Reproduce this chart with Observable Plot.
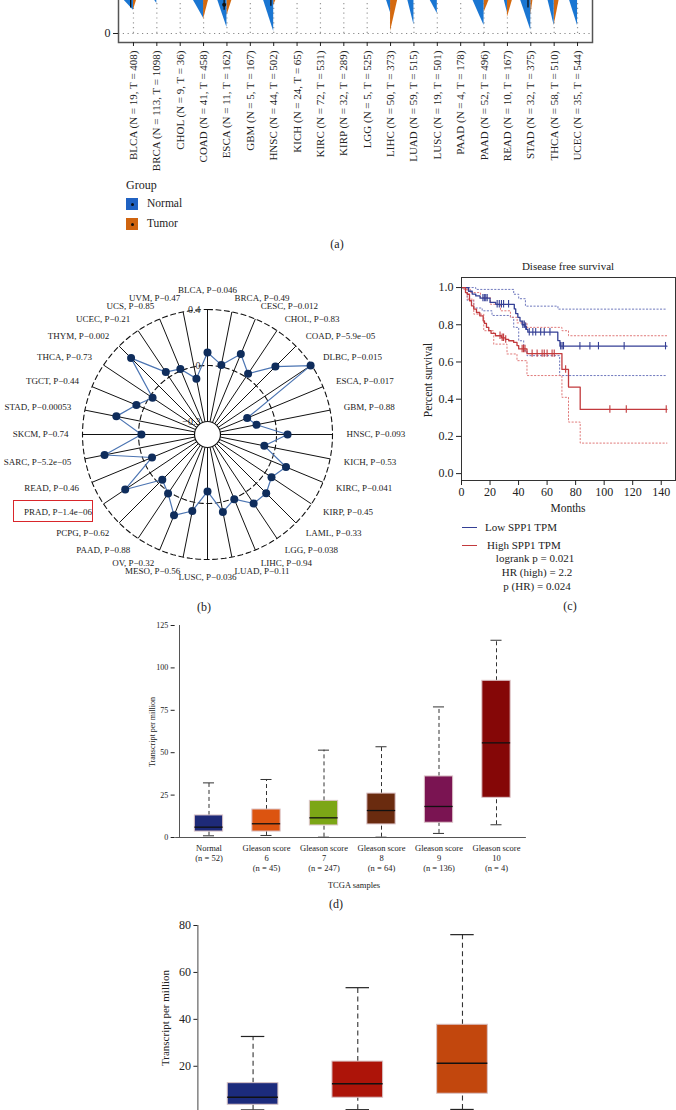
<!DOCTYPE html>
<html><head><meta charset="utf-8">
<script src="https://cdn.jsdelivr.net/npm/d3@7"></script>
<script src="https://cdn.jsdelivr.net/npm/@observablehq/plot@0.6"></script>
<style>
html,body{margin:0;padding:0;background:#fff;}
#page{position:relative;width:676px;height:1110px;overflow:hidden;font-family:"Liberation Serif",serif;color:#222;}
.abs{position:absolute;}
.t{position:absolute;white-space:nowrap;line-height:1;}
</style></head><body><div id="page"></div>
<script>
// ---------- Panel (a): split violins (cropped) ----------
const aCats = ["BLCA","BRCA","CHOL","COAD","ESCA","GBM","HNSC","KICH","KIRC","KIRP","LGG","LIHC","LUAD","LUSC","PAAD","PAAD","READ","STAD","THCA","UCEC"];
const aNormalN = [19,113,9,41,11,5,44,24,72,32,5,50,59,19,4,52,10,32,58,35];
const aTumorN = [408,1098,36,458,162,167,502,65,531,289,525,373,515,501,178,496,167,375,510,544];
const aNormalTip = [2.9,3.75,null,1.9,0.75,null,0.25,null,null,null,null,2.6,1.1,2.5,null,1.0,2.6,0.4,1.0,1.0];
const aNormalWidth = [0.39,0.09,null,0.43,0.39,null,0.43,null,null,null,null,0.17,0.26,0.3,null,0.47,0.13,0.43,0.26,0.34];
const aTumorTip = [2.9,null,null,1.75,2.25,null,3.5,null,null,null,null,0.25,null,null,null,2.6,2.0,2.25,1.0,null];
const aTumorWidth = [0.13,null,null,0.21,0.21,null,0.09,null,null,null,null,0.3,null,null,null,0.21,0.21,0.09,0.21,null];
const aBarCat = [0,4,6,17];
const aBarLow = [3.2,2.9,3.4,3.2];
const aDotCat = [4];
const aDotVal = [3.6];

// ---------- Panel (b): radar ----------
const radarCats = ["BLCA","BRCA","CESC","CHOL","COAD","DLBC","ESCA","GBM","HNSC","KICH","KIRC","KIRP","LAML","LGG","LIHC","LUAD","LUSC","MESO","OV","PAAD","PCPG","PRAD","READ","SARC","SKCM","STAD","TGCT","THCA","THYM","UCEC","UCS","UVM"];
const radarP = ["0.046","0.49","0.012","0.83","5.9e\u221205","0.015","0.017","0.88","0.093","0.53","0.041","0.45","0.33","0.038","0.94","0.11","0.036","0.56","0.32","0.88","0.62","1.4e\u221206","0.46","5.2e\u221205","0.74","0.00053","0.44","0.73","0.002","0.21","0.85","0.47"];
const radarCor = [0.093,0.014,0.129,0.029,0.193,0.393,-0.186,-0.136,0.079,-0.079,0.114,0.057,0.1,0.1,0.007,0.071,-0.086,0.064,0.132,0.014,-0.036,0.214,-0.064,0.257,-0.021,0.171,0.057,-0.021,0.279,0.043,0.014,-0.086];
const radarGrid = [-0.4, 0, 0.4];
const radarGridLabels = ["\u22120.3", "0", "0.4"];

// ---------- Panel (c): Kaplan-Meier ----------
const kmLowT = [0,5,7.5,10,13,20,24,37,38,39.5,41,42.5,44.5,45.5,46.5,67.5,69,144];
const kmLowS = [1.0,0.98,0.965,0.955,0.943,0.92,0.91,0.885,0.86,0.84,0.82,0.80,0.79,0.775,0.76,0.715,0.685,0.685];
const kmLowCensor = [15,16,17,18,25,26.5,28,29.5,33,43,44,45,47.5,50,52,55.5,58,62,69.5,70.5,71.5,83,90,96,114,143];
const kmHighT = [0,2.8,4,5.6,7,8.6,10.5,12.8,15.2,16.1,17.5,19.1,20.7,23.8,28,30.8,33.1,36.6,38.9,40.1,45.9,70.4,75,83.2,144];
const kmHighS = [1.0,0.973,0.964,0.929,0.902,0.884,0.866,0.848,0.821,0.807,0.786,0.768,0.754,0.741,0.73,0.721,0.714,0.705,0.688,0.67,0.645,0.56,0.465,0.345,0.345];
const kmHighCensor = [27,28.5,29.5,31,42.5,43.5,44.5,49.5,53,56.5,58,60,63.5,65,73,104,115.5,143.5];
const kmLowUpT = [0,10,36.6,40.1,44.8,67.6,144];
const kmLowUpS = [1.0,0.99,0.964,0.94,0.9,0.884,0.884];
const kmLowLoT = [0,4,8.6,14.5,21.4,34.3,36.6,40.1,43.6,45.9,68.8,144];
const kmLowLoS = [1.0,0.93,0.89,0.875,0.85,0.84,0.786,0.714,0.66,0.634,0.527,0.527];
const kmHighUpT = [0,1.6,6.3,13.3,20.3,27.3,34.3,39,45.9,70.4,75,144];
const kmHighUpS = [1.0,0.99,0.973,0.946,0.91,0.875,0.84,0.81,0.786,0.768,0.741,0.741];
const kmHighLoT = [0,4,8.6,15.6,22.6,31.9,38.9,45.9,70.4,75,83.2,144];
const kmHighLoS = [1.0,0.9375,0.857,0.768,0.696,0.643,0.607,0.527,0.41,0.277,0.164,0.164];

// ---------- Panel (d): Gleason boxplots ----------
const dLine1 = ["Normal","Gleason score","Gleason score","Gleason score","Gleason score","Gleason score"];
const dLine2 = ["(n = 52)","6","7","8","9","10"];
const dLine3 = ["","(n = 45)","(n = 247)","(n = 64)","(n = 136)","(n = 4)"];
const dMin = [1.0,1.2,0.2,0.2,2.4,7.5];
const dQ1 = [3.5,3.5,7.1,7.7,8.7,23.4];
const dMed = [6.1,8.1,11.6,15.9,18.3,55.8];
const dQ3 = [13,16.5,21.6,25.9,36,92.4];
const dMax = [32.2,34.2,51.5,53.5,77,116.3];
const dColors = ["#1e2a78","#dc5410","#7ca616","#6a2b0f","#7a1452","#850707"];

// ---------- Panel (e): boxplots (cropped; category labels fall below the figure) ----------
const eCats = ["Normal","N0","N1"];
const eMin = [1.4,1.5,1.6];
const eQ1 = [3.6,6.6,8.3];
const eMed = [6.8,12.5,21.3];
const eQ3 = [12.8,22,37.7];
const eMax = [32.7,53.5,76.1];
const eColors = ["#1c2b7c","#ad1409","#c2470d"];

// ---------- helpers ----------
const page = document.getElementById("page");
function put(node, left, top) {
  const d = document.createElement("div");
  d.className = "abs"; d.style.left = left + "px"; d.style.top = top + "px";
  d.appendChild(node); page.appendChild(d); return d;
}
function txt(s, x, y, size, anchor = "middle", rotate = 0, extra = {}) {
  const d = document.createElement("div");
  d.className = "t"; d.textContent = s; d.style.fontSize = size + "px";
  d.style.left = x + "px"; d.style.top = y + "px";
  const tx = anchor === "start" ? "0" : anchor === "end" ? "-100%" : "-50%";
  d.style.transform = `translate(${tx},-50%)` + (rotate ? ` rotate(${rotate}deg)` : "");
  Object.assign(d.style, extra);
  page.appendChild(d); return d;
}
function box(x, y, w, h, style) {
  const d = document.createElement("div");
  d.className = "abs"; d.style.left = x + "px"; d.style.top = y + "px";
  d.style.width = w + "px"; d.style.height = h + "px";
  Object.assign(d.style, style); page.appendChild(d); return d;
}
const baseStyle = {fontFamily: "Liberation Serif", fontSize: "11px", background: "transparent", overflow: "visible", color: "#222"};

// ---------- (a) ----------
{
  const idx = d3.range(aCats.length);
  const aTop = 4.125; // value level at the cropped top edge of the figure
  const rows = [];
  idx.forEach(i => {
    if (aNormalTip[i] != null) rows.push({id: "n" + i, g: "N", y: aNormalTip[i], x1: i, x2: i}, {id: "n" + i, g: "N", y: aTop, x1: i, x2: i - aNormalWidth[i]});
    if (aTumorTip[i] != null) rows.push({id: "t" + i, g: "T", y: aTumorTip[i], x1: i, x2: i}, {id: "t" + i, g: "T", y: aTop, x1: i, x2: i + aTumorWidth[i]});
  });
  const bars = aBarCat.map((c, k) => ({x: c - 0.12, y1: aBarLow[k], y2: 5}));
  const dots = aDotCat.map((c, k) => ({x: c - 0.12, y: aDotVal[k]}));
  const p = Plot.plot({
    width: 676, height: 200, marginLeft: 118, marginRight: 84, marginTop: 0, marginBottom: 148,
    style: {...baseStyle, fontSize: "11px"},
    x: {domain: [-0.64, 19.64], axis: null},
    y: {domain: [-1.125, 5.375], axis: null},
    marks: [
      Plot.ruleY([0], {stroke: "#888", strokeDasharray: "1.2,3.6", strokeWidth: 1.2}),
      Plot.ruleX(idx, {x: d => d, y1: 0, y2: 5.375, stroke: "#999", strokeDasharray: "1.2,3.6", strokeWidth: 1.2}),
      Plot.areaX(rows.filter(r => r.g === "T"), {y: "y", x1: "x1", x2: "x2", z: "id", fill: "#d4690f"}),
      Plot.areaX(rows.filter(r => r.g === "N"), {y: "y", x1: "x1", x2: "x2", z: "id", fill: "#1a76d2"}),
      Plot.ruleX(bars, {x: "x", y1: "y1", y2: "y2", stroke: "#111", strokeWidth: 1.3}),
      Plot.dot(dots, {x: "x", y: "y", r: 2, fill: "#111"}),
      Plot.frame({stroke: "#555", strokeWidth: 1.5}),
      Plot.axisY({ticks: [0], tickFormat: d3.format("d"), tickSize: 5, tickPadding: 3, fontSize: 12, label: null}),
      Plot.axisX({ticks: idx, tickFormat: i => `${aCats[i]} (N = ${aNormalN[i]}, T = ${aTumorN[i]})`, tickRotate: -90, tickSize: 4, tickPadding: 4, fontSize: 11, label: null})
    ]
  });
  put(p, 0, -10);
  txt("Group", 126, 185, 12, "start");
  box(126, 198, 12, 12, {background: "#2062c2"});
  box(130.5, 202.5, 3, 3, {background: "#111", borderRadius: "50%"});
  txt("Normal", 147, 204, 11.5, "start");
  box(126, 218, 12, 12, {background: "#cf640f"});
  box(130.5, 222.5, 3, 3, {background: "#111", borderRadius: "50%"});
  txt("Tumor", 147, 224, 11.5, "start");
  txt("(a)", 337, 244, 12);
}

// ---------- (b) ----------
{
  const n = radarCats.length;
  const rScale = d3.scaleLinear([-0.4, 0.4], [13, 125]);
  const ang = i => i * 2 * Math.PI / n;
  const pts = radarCats.map((c, i) => ({x: rScale(radarCor[i]) * Math.sin(ang(i)), y: rScale(radarCor[i]) * Math.cos(ang(i))}));
  const circ = r => d3.range(0, 361, 2).map(a => ({x: r * Math.sin(a * Math.PI / 180), y: r * Math.cos(a * Math.PI / 180)}));
  const r0 = rScale(radarGrid[0]), r1 = rScale(radarGrid[2]);
  const spokes = radarCats.map((c, i) => ({x1: r0 * Math.sin(ang(i)), y1: r0 * Math.cos(ang(i)), x2: r1 * Math.sin(ang(i)), y2: r1 * Math.cos(ang(i))}));
  const labR = 139;
  const labs = radarCats.map((c, i) => ({t: `${c}, P\u2212${radarP[i]}`, s: Math.sin(ang(i)), x: labR * Math.sin(ang(i)), y: labR * Math.cos(ang(i))}));
  const gridLabs = radarGrid.map((v, k) => ({t: radarGridLabels[k], y: rScale(v)}));
  const p = Plot.plot({
    width: 460, height: 360, margin: 0,
    style: {...baseStyle, fontSize: "9px"},
    x: {domain: [-207, 253], axis: null},
    y: {domain: [-186, 174], axis: null},
    marks: [
      Plot.text(gridLabs, {x: () => -7, y: "y", text: "t", textAnchor: "end", fontSize: 10, fill: "#333"}),
      Plot.line(circ(rScale(radarGrid[2])), {x: "x", y: "y", stroke: "#111", strokeWidth: 1.1, strokeDasharray: "5,3.5"}),
      Plot.line(circ(rScale(radarGrid[1])), {x: "x", y: "y", stroke: "#111", strokeWidth: 1.1, strokeDasharray: "5,3.5"}),
      Plot.link(spokes, {x1: "x1", y1: "y1", x2: "x2", y2: "y2", stroke: "#111", strokeWidth: 1}),
      Plot.dot([{x: 0, y: 0}], {x: "x", y: "y", r: r0, fill: "white", stroke: "#111", strokeWidth: 1.2}),
      Plot.line(pts, {x: "x", y: "y", curve: "linear-closed", stroke: "#4b74b2", strokeWidth: 1.2}),
      Plot.dot(pts, {x: "x", y: "y", r: 4, fill: "#0f2d5c"}),
      Plot.text(labs.filter(d => d.s > 0.01), {x: "x", y: "y", text: "t", textAnchor: "start", fill: "#222"}),
      Plot.text(labs.filter(d => d.s < -0.01), {x: "x", y: "y", text: "t", textAnchor: "end", fill: "#222"}),
      Plot.text(labs.filter(d => Math.abs(d.s) <= 0.01 && d.y > 0), {x: "x", y: "y", text: "t", textAnchor: "middle", dy: -5, fill: "#222"}),
      Plot.text(labs.filter(d => Math.abs(d.s) <= 0.01 && d.y < 0), {x: "x", y: "y", text: "t", textAnchor: "middle", lineAnchor: "top", fill: "#222"})
    ]
  });
  put(p, 0, 260);
  box(13, 500, 78, 20, {border: "1px solid #d9262b"});
  txt("(b)", 204, 607, 12);
}

// ---------- (c) ----------
{
  const rowsOf = (T, S) => T.map((t, i) => ({t, s: S[i]}));
  const stepAt = (T, S, c) => { let v = S[0]; for (let i = 0; i < T.length; i++) if (T[i] <= c) v = S[i]; return v; };
  const cens = (C, T, S) => C.map(c => ({t: c, s: stepAt(T, S, c)}));
  const blue = "#343f95", red = "#c23a3d";
  const p = Plot.plot({
    width: 276, height: 250, marginLeft: 61, marginRight: 1, marginTop: 22, marginBottom: 25,
    style: {...baseStyle, fontSize: "11.5px"},
    x: {domain: [0, 150], axis: null},
    y: {domain: [-0.037, 1.054], axis: null},
    marks: [
      Plot.line(rowsOf(kmLowUpT, kmLowUpS), {x: "t", y: "s", curve: "step-after", stroke: "#6f78bd", strokeWidth: 1, strokeDasharray: "1.3,2.2"}),
      Plot.line(rowsOf(kmLowLoT, kmLowLoS), {x: "t", y: "s", curve: "step-after", stroke: "#6f78bd", strokeWidth: 1, strokeDasharray: "1.3,2.2"}),
      Plot.line(rowsOf(kmHighUpT, kmHighUpS), {x: "t", y: "s", curve: "step-after", stroke: "#e07a7a", strokeWidth: 1, strokeDasharray: "1.3,2.2"}),
      Plot.line(rowsOf(kmHighLoT, kmHighLoS), {x: "t", y: "s", curve: "step-after", stroke: "#e07a7a", strokeWidth: 1, strokeDasharray: "1.3,2.2"}),
      Plot.line(rowsOf(kmLowT, kmLowS), {x: "t", y: "s", curve: "step-after", stroke: blue, strokeWidth: 1.3}),
      Plot.line(rowsOf(kmHighT, kmHighS), {x: "t", y: "s", curve: "step-after", stroke: red, strokeWidth: 1.3}),
      Plot.ruleX(cens(kmLowCensor, kmLowT, kmLowS), {x: "t", y1: d => d.s - 0.02, y2: d => d.s + 0.02, stroke: blue, strokeWidth: 1.1}),
      Plot.ruleX(cens(kmHighCensor, kmHighT, kmHighS), {x: "t", y1: d => d.s - 0.02, y2: d => d.s + 0.02, stroke: red, strokeWidth: 1.1}),
      Plot.frame({stroke: "#333", strokeWidth: 1}),
      Plot.axisY({ticks: [0, 0.2, 0.4, 0.6, 0.8, 1.0], tickFormat: d3.format(".1f"), tickSize: 5, tickPadding: 3, fontSize: 12, label: null}),
      Plot.axisX({ticks: d3.range(0, 141, 20), tickSize: 5, tickPadding: 2, fontSize: 12, label: null})
    ]
  });
  put(p, 400, 255);
  txt("Disease free survival", 568, 266, 11);
  txt("Months", 568, 509, 11.5);
  txt("Percent survival", 429, 380, 11.5, "middle", -90);
  box(462, 527, 15, 1.3, {background: blue});
  txt("Low SPP1 TPM", 485, 527, 11, "start");
  box(462, 545, 15, 1.3, {background: red});
  txt("High SPP1 TPM", 487, 545, 11, "start");
  txt("logrank p = 0.021", 535, 558, 11);
  txt("HR (high) = 2.2", 537, 572, 11);
  txt("p (HR) = 0.024", 537, 586, 11);
  txt("(c)", 570, 606, 12);
}

// ---------- (d) ----------
{
  const idx = d3.range(dLine1.length);
  const hw = 0.246, cw = 0.096;
  const p = Plot.plot({
    width: 440, height: 282, marginLeft: 75.15, marginRight: 14.1, marginTop: 10, marginBottom: 60,
    style: {...baseStyle, fontSize: "8.5px"},
    x: {domain: [-0.58, 5.52], axis: null},
    y: {domain: [0, 125], axis: null},
    marks: [
      Plot.ruleX(idx, {x: d => d, y1: i => dQ3[i], y2: i => dMax[i], stroke: "#333", strokeDasharray: "4,3", strokeWidth: 1}),
      Plot.ruleX(idx, {x: d => d, y1: i => dMin[i], y2: i => dQ1[i], stroke: "#333", strokeDasharray: "4,3", strokeWidth: 1}),
      Plot.ruleY(idx, {x1: i => i - cw, x2: i => i + cw, y: i => dMax[i], stroke: "#333", strokeWidth: 1}),
      Plot.ruleY(idx, {x1: i => i - cw, x2: i => i + cw, y: i => dMin[i], stroke: "#333", strokeWidth: 1}),
      Plot.rect(idx, {x1: i => i - hw, x2: i => i + hw, y1: i => dQ1[i], y2: i => dQ3[i], fill: i => dColors[i], stroke: "#dcc4c8", strokeWidth: 1}),
      Plot.ruleY(idx, {x1: i => i - hw, x2: i => i + hw, y: i => dMed[i], stroke: "#111", strokeWidth: 1.3}),
      Plot.ruleY([0], {stroke: "#555", strokeWidth: 1}),
      Plot.ruleX([-0.513], {y1: 0, y2: 125, stroke: "#555", strokeWidth: 1}),
      Plot.axisY({ticks: [0, 25, 50, 75, 100, 125], tickSize: 4, tickPadding: 3, fontSize: 8, dx: -0.5, label: null}),
      Plot.axisX({ticks: idx, tickFormat: i => [dLine1[i], dLine2[i], dLine3[i]].filter(s => s).join("\n"), tickSize: 0, tickPadding: 6, fontSize: 8.5, lineHeight: 1.18, label: null})
    ]
  });
  put(p, 100, 615);
  txt("Transcript per million", 153, 732, 8, "middle", -90);
  txt("TCGA samples", 354, 885, 8.5);
  txt("(d)", 336, 904, 12);
}

// ---------- (e) ----------
{
  const idx = d3.range(eCats.length);
  const hw = 0.242, cw = 0.112;
  const p = Plot.plot({
    width: 480, height: 220, marginLeft: 97.4, marginRight: 55.2, marginTop: 10, marginBottom: 22.3,
    style: {...baseStyle, fontSize: "12px"},
    x: {domain: [-0.527, 2.6], axis: null},
    y: {domain: [0, 80], axis: null},
    marks: [
      Plot.ruleX(idx, {x: d => d, y1: i => eQ3[i], y2: i => eMax[i], stroke: "#333", strokeDasharray: "5,3.5", strokeWidth: 1.1}),
      Plot.ruleX(idx, {x: d => d, y1: i => eMin[i], y2: i => eQ1[i], stroke: "#333", strokeDasharray: "5,3.5", strokeWidth: 1.1}),
      Plot.ruleY(idx, {x1: i => i - cw, x2: i => i + cw, y: i => eMax[i], stroke: "#222", strokeWidth: 1.2}),
      Plot.ruleY(idx, {x1: i => i - cw, x2: i => i + cw, y: i => eMin[i], stroke: "#222", strokeWidth: 1.2}),
      Plot.rect(idx, {x1: i => i - hw, x2: i => i + hw, y1: i => eQ1[i], y2: i => eQ3[i], fill: i => eColors[i], stroke: "#d8c2c4", strokeWidth: 1}),
      Plot.ruleY(idx, {x1: i => i - hw, x2: i => i + hw, y: i => eMed[i], stroke: "#111", strokeWidth: 1.5}),
      Plot.ruleX([-0.527], {y1: 0, y2: 80, stroke: "#444", strokeWidth: 1}),
      Plot.axisY({ticks: [20, 40, 60, 80], tickSize: 4, tickPadding: 3, fontSize: 12, label: null}),
      Plot.axisY({ticks: [0], tickFormat: () => "", tickSize: 4, label: null})
    ]
  });
  put(p, 100, 915);
  txt("Transcript per million", 165, 1018, 11, "middle", -90);
}
</script></body></html>
